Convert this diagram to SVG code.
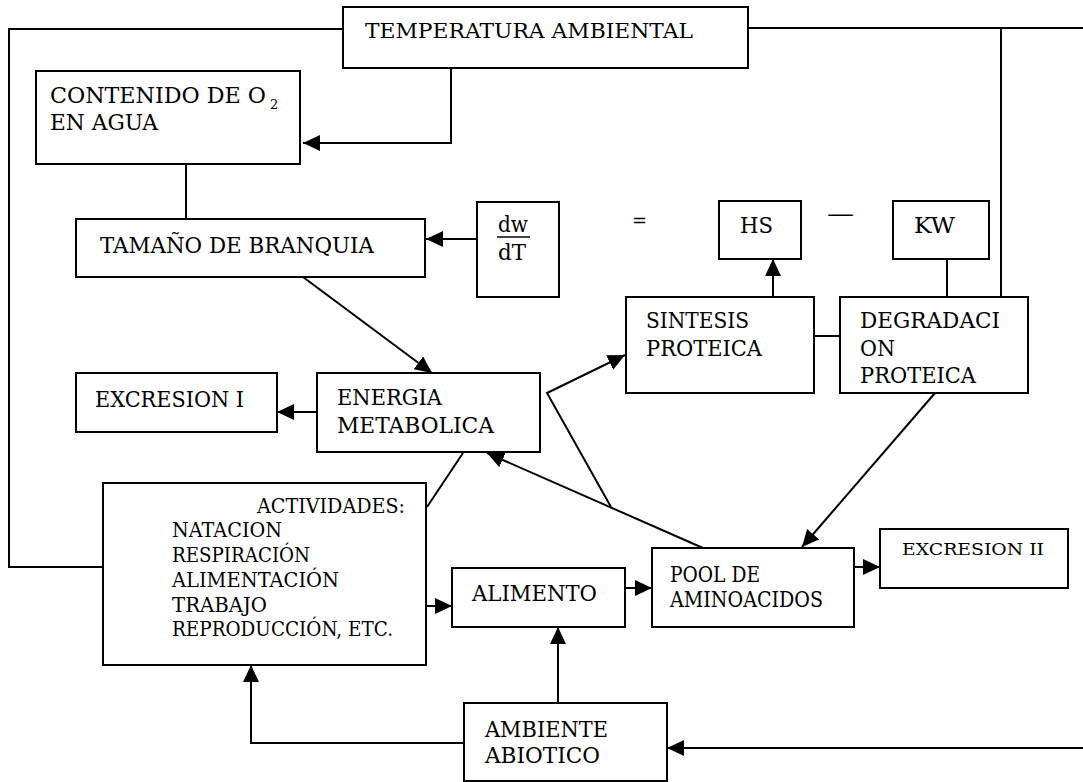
<svg xmlns="http://www.w3.org/2000/svg" width="1083" height="782" viewBox="0 0 1083 782">
<style>
rect.box{fill:#fff;stroke:#000;stroke-width:2}
.c{fill:none;stroke:#000;stroke-width:2}
text{font-family:"DejaVu Serif","Liberation Serif",serif;font-size:23px;fill:#000}
text.s{font-size:20px}
text.t20{font-size:20px}
text.t17{font-size:17px}
text.t13{font-size:13px}
text.t18{font-size:18px}
text.t24{font-size:24px}
</style>
<defs>
<marker id="ah" markerUnits="userSpaceOnUse" markerWidth="20" markerHeight="18" refX="17" refY="8" orient="auto">
<path d="M0,0 L17,8 L0,16 z" fill="#000"/>
</marker>
</defs>
<rect width="1083" height="782" fill="#fff"/>
<g id="connectors">
<polyline class="c" points="343,29 9,29 9,567 103,567"/>
<polyline class="c" points="748,28 1083,28"/>
<polyline class="c" points="1001,28 1001,297"/>
<polyline class="c" points="451,68 451,143 303,143" marker-end="url(#ah)"/>
<polyline class="c" points="186,164 186,219"/>
<polyline class="c" points="477,239 426,239" marker-end="url(#ah)"/>
<polyline class="c" points="303,277 432,373" marker-end="url(#ah)"/>
<polyline class="c" points="317,412 277,412" marker-end="url(#ah)"/>
<polyline class="c" points="773,297 773,259" marker-end="url(#ah)"/>
<polyline class="c" points="947,259 947,297"/>
<polyline class="c" points="814,336 840,336"/>
<polyline class="c" points="935,393 802,547" marker-end="url(#ah)"/>
<polyline class="c" points="703,548 487,453" marker-end="url(#ah)"/>
<polyline class="c" points="611,507 547,393 625,355" marker-end="url(#ah)"/>
<polyline class="c" points="427,507 463,453"/>
<polyline class="c" points="426,606 452,606" marker-end="url(#ah)"/>
<polyline class="c" points="625,588 652,588" marker-end="url(#ah)"/>
<polyline class="c" points="854,567 880,567" marker-end="url(#ah)"/>
<polyline class="c" points="558,703 558,627" marker-end="url(#ah)"/>
<polyline class="c" points="464,743 251,743 251,665" marker-end="url(#ah)"/>
<polyline class="c" points="1083,748 667,748" marker-end="url(#ah)"/>
</g>
<g id="temperatura">
<rect class="box" x="343" y="7" width="405" height="61"/>
<text class="t20" x="365" y="38" textLength="328" lengthAdjust="spacingAndGlyphs">TEMPERATURA  AMBIENTAL</text>
</g>
<g id="contenido">
<rect class="box" x="36" y="71" width="264" height="93"/>
<text x="50" y="103" textLength="216" lengthAdjust="spacingAndGlyphs">CONTENIDO DE  O</text>
<text class="t13" x="270" y="109">2</text>
<text x="50" y="130" textLength="108" lengthAdjust="spacingAndGlyphs">EN AGUA</text>
</g>
<g id="tamano">
<rect class="box" x="76" y="219" width="349" height="58"/>
<text x="100" y="253" textLength="274" lengthAdjust="spacingAndGlyphs">TAMAÑO DE BRANQUIA</text>
</g>
<g id="dwdt">
<rect class="box" x="477" y="202" width="82" height="95"/>
<text x="498" y="232" textLength="30" lengthAdjust="spacingAndGlyphs">dw</text>
<line x1="497" y1="237" x2="530" y2="237" stroke="#000" stroke-width="1.5"/>
<text x="498" y="260" textLength="28" lengthAdjust="spacingAndGlyphs">dT</text>
</g>
<g id="igual"><text class="t18" x="632" y="227">=</text></g>
<g id="hs">
<rect class="box" x="719" y="201" width="82" height="58"/>
<text x="740" y="233" textLength="33" lengthAdjust="spacingAndGlyphs">HS</text>
</g>
<g id="menos"><text class="t24" x="827" y="222" textLength="27" lengthAdjust="spacingAndGlyphs">—</text></g>
<g id="kw">
<rect class="box" x="893" y="201" width="96" height="58"/>
<text x="914" y="233" textLength="41" lengthAdjust="spacingAndGlyphs">KW</text>
</g>
<g id="sintesis">
<rect class="box" x="626" y="297" width="188" height="96"/>
<text x="646" y="328" textLength="103" lengthAdjust="spacingAndGlyphs">SINTESIS</text>
<text x="646" y="356" textLength="116" lengthAdjust="spacingAndGlyphs">PROTEICA</text>
</g>
<g id="degradacion">
<rect class="box" x="840" y="297" width="188" height="96"/>
<text x="860" y="328" textLength="140" lengthAdjust="spacingAndGlyphs">DEGRADACI</text>
<text x="860" y="356" textLength="35" lengthAdjust="spacingAndGlyphs">ON</text>
<text x="860" y="383" textLength="116" lengthAdjust="spacingAndGlyphs">PROTEICA</text>
</g>
<g id="excresion1">
<rect class="box" x="76" y="373" width="201" height="59"/>
<text x="95" y="407" textLength="149" lengthAdjust="spacingAndGlyphs">EXCRESION I</text>
</g>
<g id="energia">
<rect class="box" x="317" y="373" width="223" height="79"/>
<text x="337" y="405" textLength="105" lengthAdjust="spacingAndGlyphs">ENERGIA</text>
<text x="337" y="433" textLength="157" lengthAdjust="spacingAndGlyphs">METABOLICA</text>
</g>
<g id="actividades">
<rect class="box" x="103" y="483" width="323" height="182"/>
<text class="s" x="257" y="513" textLength="148" lengthAdjust="spacingAndGlyphs">ACTIVIDADES:</text>
<text class="s" x="172" y="537" textLength="110" lengthAdjust="spacingAndGlyphs">NATACION</text>
<text class="s" x="172" y="562" textLength="138" lengthAdjust="spacingAndGlyphs">RESPIRACIÓN</text>
<text class="s" x="172" y="587" textLength="167" lengthAdjust="spacingAndGlyphs">ALIMENTACIÓN</text>
<text class="s" x="172" y="612" textLength="95" lengthAdjust="spacingAndGlyphs">TRABAJO</text>
<text class="s" x="172" y="636" textLength="221" lengthAdjust="spacingAndGlyphs">REPRODUCCIÓN, ETC.</text>
</g>
<g id="alimento">
<rect class="box" x="452" y="568" width="173" height="59"/>
<text x="472" y="601" textLength="125" lengthAdjust="spacingAndGlyphs">ALIMENTO</text>
</g>
<g id="pool">
<rect class="box" x="652" y="548" width="202" height="79"/>
<text x="670" y="582" textLength="90" lengthAdjust="spacingAndGlyphs">POOL DE</text>
<text x="670" y="607" textLength="153" lengthAdjust="spacingAndGlyphs">AMINOACIDOS</text>
</g>
<g id="excresion2">
<rect class="box" x="880" y="529" width="188" height="59"/>
<text class="t17" x="902" y="555" textLength="142" lengthAdjust="spacingAndGlyphs">EXCRESION II</text>
</g>
<g id="ambiente">
<rect class="box" x="464" y="703" width="203" height="78"/>
<text x="485" y="737" textLength="123" lengthAdjust="spacingAndGlyphs">AMBIENTE</text>
<text x="485" y="763" textLength="115" lengthAdjust="spacingAndGlyphs">ABIOTICO</text>
</g>
</svg>
